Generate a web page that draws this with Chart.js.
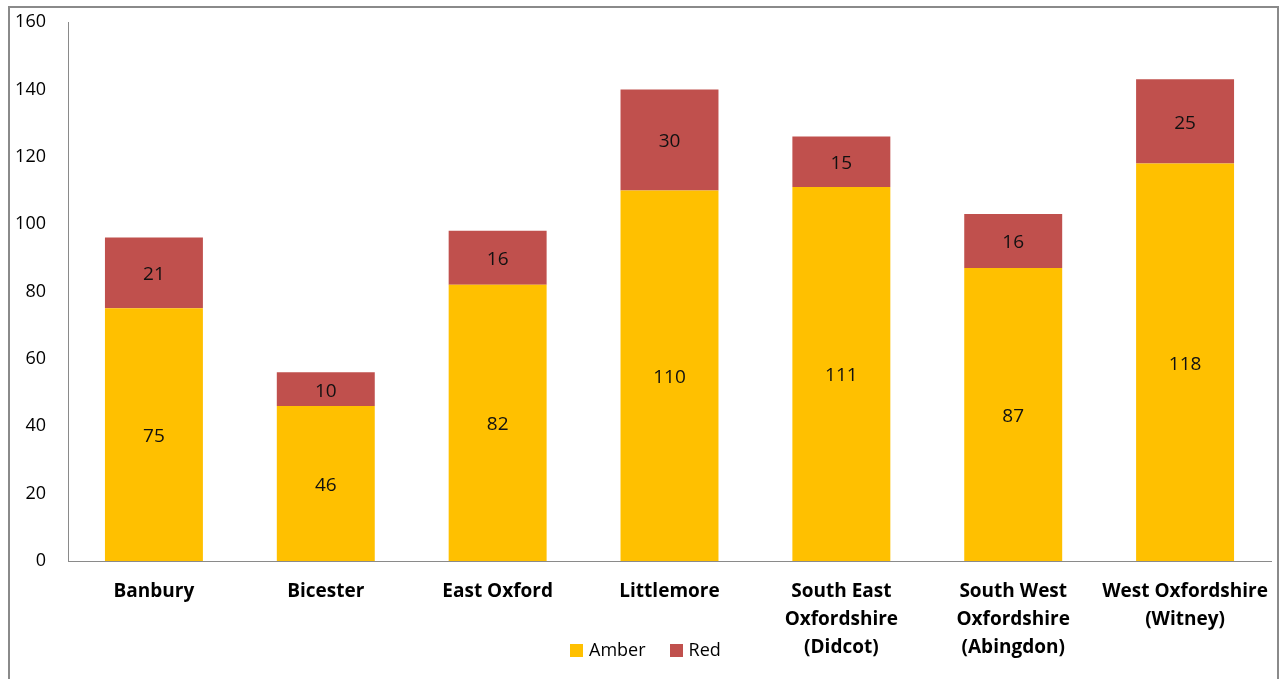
<!DOCTYPE html>
<html>
<head>
<meta charset="utf-8">
<script src="https://cdn.jsdelivr.net/npm/chart.js@4"></script>
<style>
    body { margin: 0; background: #fff; }
    #wrap { position: relative; width: 1279px; height: 679px; overflow: hidden; }
    #frame { position: absolute; left: 8px; top: 6px; width: 1267px; height: 700px; border: 2px solid #8a8a8a; pointer-events: none; }
    #legend { position: absolute; left: 570px; top: 637px; font: 18px 'Open Sans', 'Noto Sans', sans-serif; color: #000; white-space: nowrap; }
    #legend span.item { display: inline-block; margin-right: 24px; }
    #legend i { display: inline-block; width: 13px; height: 13px; margin-right: 6px; vertical-align: -1px; }
</style>
</head>
<body>
<div id="wrap">
    <canvas id="teamChart"></canvas>
    <div id="legend"></div>
    <div id="frame"></div>
</div>
<script>
const teams = [
    "Banbury",
    "Bicester",
    "East Oxford",
    "Littlemore",
    ["South East", "Oxfordshire", "(Didcot)"],
    ["South West", "Oxfordshire", "(Abingdon)"],
    ["West Oxfordshire", "(Witney)"]
];
const amber = [75, 46, 82, 110, 111, 87, 118];
const red = [21, 10, 16, 30, 15, 16, 25];

const FONT = "'Open Sans', 'Noto Sans', sans-serif";

// values written in the middle of each bar segment
const barLabels = {
    id: "barLabels",
    afterDatasetsDraw(chart) {
        const ctx = chart.ctx;
        ctx.save();
        ctx.font = "19px " + FONT;
        ctx.fillStyle = "#111";
        ctx.textAlign = "center";
        ctx.textBaseline = "middle";
        chart.data.datasets.forEach((ds, i) => {
            const meta = chart.getDatasetMeta(i);
            meta.data.forEach((bar, j) => {
                ctx.fillText(ds.data[j], bar.x, (bar.y + bar.base) / 2 + 2);
            });
        });
        ctx.restore();
    }
};

const chart = new Chart(document.getElementById("teamChart"), {
    type: "bar",
    data: {
        labels: teams,
        datasets: [
            { label: "Amber", data: amber, backgroundColor: "#FFC000" },
            { label: "Red", data: red, backgroundColor: "#C0504D" }
        ]
    },
    options: {
        responsive: true,
        maintainAspectRatio: false,
        animation: false,
        layout: { padding: { top: 22, right: 8, left: 0, bottom: 0 } },
        datasets: { bar: { barPercentage: 0.57, categoryPercentage: 1 } },
        plugins: {
            tooltip: { enabled: false },
            legend: { display: false }
        },
        scales: {
            x: {
                stacked: true,
                grid: { display: false, drawTicks: false },
                border: { display: true, color: "#8a8a8a", width: 1 },
                ticks: {
                    padding: 17,
                    color: "#000",
                    maxRotation: 0,
                    autoSkip: false,
                    font: { family: FONT, size: 19, weight: "bold", lineHeight: 1.47 }
                },
                afterFit(scale) {
                    scale.height = 118;
                    scale.paddingLeft = 0;
                    scale.paddingRight = 0;
                }
            },
            y: {
                stacked: true,
                min: 0,
                max: 160,
                grid: { display: false, drawTicks: false },
                border: { display: true, color: "#8a8a8a", width: 1 },
                ticks: {
                    stepSize: 20,
                    padding: 22,
                    color: "#000",
                    font: { family: FONT, size: 18 }
                },
                afterFit(scale) {
                    scale.width = 68;
                    scale.paddingTop = 0;
                    scale.paddingBottom = 0;
                }
            }
        }
    },
    plugins: [barLabels]
});

// legend as html under the plot
const legendEl = document.getElementById("legend");
chart.data.datasets.forEach(ds => {
    legendEl.innerHTML += `<span class="item"><i style="background:${ds.backgroundColor}"></i>${ds.label}</span>`;
});
</script>
</body>
</html>
